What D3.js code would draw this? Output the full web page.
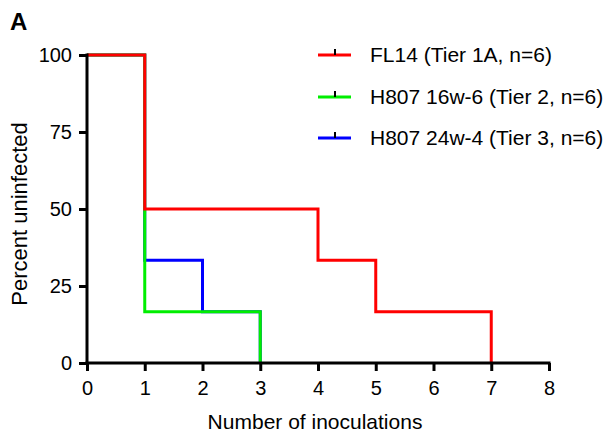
<!DOCTYPE html>
<html>
<head>
<meta charset="utf-8">
<script src="https://cdn.jsdelivr.net/npm/d3@7"></script>
<style>
  html, body { margin: 0; padding: 0; background: #fff; }
  svg { display: block; }
  text { font-family: "Liberation Sans", Arial, Helvetica, sans-serif; fill: #000; }
</style>
</head>
<body>
<svg id="chart" width="608" height="437"></svg>
<script>
// ---- data ----
const seriesNames = ["FL14 (Tier 1A, n=6)", "H807 16w-6 (Tier 2, n=6)", "H807 24w-4 (Tier 3, n=6)"];
const seriesColors = ["#ff0000", "#00ee00", "#0000ff"];
// step points: [inoculation, percent uninfected]
const fl14 = [[0, 100], [1, 50], [4, 33.33], [5, 16.67], [7, 0]];
const h807_16w6 = [[0, 100], [1, 16.67], [3, 0]];
const h807_24w4 = [[0, 100], [1, 33.33], [2, 16.67], [3, 0]];
const xTicks = [0, 1, 2, 3, 4, 5, 6, 7, 8];
const yTicks = [0, 25, 50, 75, 100];
const xTitle = "Number of inoculations";
const yTitle = "Percent uninfected";
const panelLabel = "A";

const svg = d3.select("#chart");
const x = d3.scaleLinear().domain([0, 8]).range([87, 549]);
const y = d3.scaleLinear().domain([0, 100]).range([363, 55]);

// panel label
svg.append("text").attr("x", 10).attr("y", 30)
  .attr("font-size", 24).attr("font-weight", "bold").text(panelLabel);

// series (draw blue, green, red so red is on top)
const line = d3.line().x(d => x(d[0])).y(d => y(d[1])).curve(d3.curveStepAfter);
const allSeries = [fl14, h807_16w6, h807_24w4];
[2, 1, 0].forEach(i => {
  svg.append("path").datum(allSeries[i])
    .attr("d", line)
    .attr("fill", "none")
    .attr("stroke", seriesColors[i])
    .attr("stroke-width", 3)
    .attr("stroke-linejoin", "miter")
    .attr("stroke-linecap", "butt");
});

// axes
const xAxis = svg.append("g").attr("transform", `translate(0,${y(0)})`)
  .call(d3.axisBottom(x).tickValues(xTicks).tickSize(8).tickPadding(10).tickFormat(d3.format("d")));
const yAxis = svg.append("g").attr("transform", `translate(${x(0)},0)`)
  .call(d3.axisLeft(y).tickValues(yTicks).tickSize(8).tickPadding(7).tickFormat(d3.format("d")));
[xAxis, yAxis].forEach(g => {
  g.select(".domain").attr("stroke", "#000").attr("stroke-width", 3);
  g.selectAll(".tick line").attr("stroke", "#000").attr("stroke-width", 3);
  g.selectAll(".tick text").attr("font-size", 20).attr("font-family", "Liberation Sans, Arial, sans-serif").attr("fill", "#000");
});
// domain lines without end ticks
xAxis.select(".domain").attr("d", `M${x(0) - 1.5},0H${x(8) + 1.5}`);
yAxis.select(".domain").attr("d", `M0,${y(100) - 1.5}V${y(0) + 1.5}`);

// titles
svg.append("text").attr("x", 315).attr("y", 429)
  .attr("text-anchor", "middle").attr("font-size", 21).text(xTitle);
svg.append("text")
  .attr("transform", `translate(27,214) rotate(-90)`)
  .attr("text-anchor", "middle").attr("font-size", 22).text(yTitle);

// legend
const legRowY = [55, 97, 138];
seriesNames.forEach((name, i) => {
  const g = svg.append("g").attr("transform", `translate(318,${legRowY[i]})`);
  g.append("line").attr("x1", 0).attr("x2", 33).attr("y1", 0).attr("y2", 0)
    .attr("stroke", seriesColors[i]).attr("stroke-width", 3);
  g.append("line").attr("x1", 17).attr("x2", 17).attr("y1", -6).attr("y2", 0)
    .attr("stroke", "#000").attr("stroke-width", 2);
  g.append("text").attr("x", 52).attr("y", 7).attr("font-size", 21).text(name);
});
</script>
</body>
</html>
